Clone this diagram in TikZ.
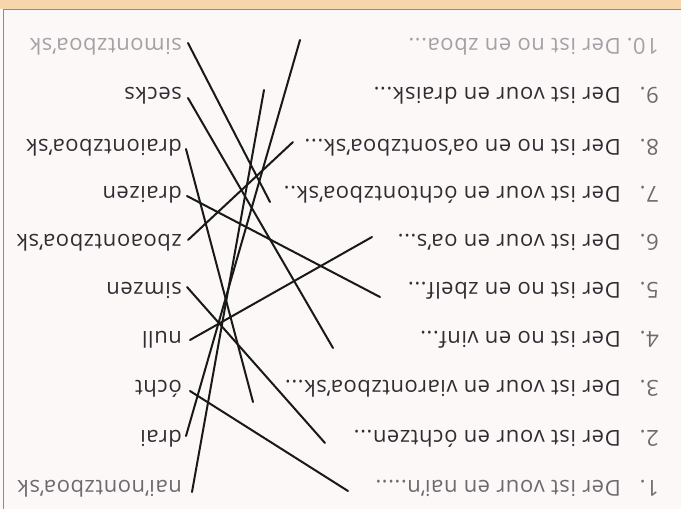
\documentclass[tikz,border=0pt]{standalone}
\usepackage{fontspec}
\setmainfont{Open Sans}[LetterSpace=2.5]
\usetikzlibrary{calc}
\definecolor{bg}{RGB}{252,248,248}
\definecolor{band}{RGB}{248,214,172}
\definecolor{framec}{RGB}{140,140,140}
\definecolor{txt}{RGB}{50,44,50}
\definecolor{txtmid}{RGB}{110,105,110}
\definecolor{txtlight}{RGB}{165,160,165}
\begin{document}
\begin{tikzpicture}[x=1pt,y=-1pt,
  lbl/.style={rotate=180, anchor=west, inner sep=0pt, text height=15pt, text depth=4pt,
    font=\fontsize{22}{26}\selectfont, text=txt},
  num/.style={lbl, text=txtmid},
  con/.style={line width=2pt, draw=black!90, line cap=round}]
\useasboundingbox (0,0) rectangle (681,509);
\fill[bg] (0,0) rectangle (681,509);
\fill[band] (0,0) rectangle (681,9);
\draw[framec, line width=1pt] (3,509) -- (3,9.5) -- (681,9.5);

% numbers
\node[num] (n1) at (659,486) {1.};
\node[num] (n2) at (659,436) {2.};
\node[num] (n3) at (659,386) {3.};
\node[num] (n4) at (659,337) {4.};
\node[num] (n5) at (659,288) {5.};
\node[num] (n6) at (659,240) {6.};
\node[num] (n7) at (659,192) {7.};
\node[num] (n8) at (659,145) {8.};
\node[num] (n9) at (659,93) {9.};
\node[num, text=txtlight] (n10) at (659,44) {10.};

% questions
\node[lbl, text=txtmid] (q1) at (621,486) {Der ist vour en nai’n.....};
\node[lbl] (q2) at (621,436) {Der ist vour en óchtzen...};
\node[lbl] (q3) at (621,386) {Der ist vour en viarontzboa’sk...};
\node[lbl] (q4) at (621,337) {Der ist no en vinf...};
\node[lbl] (q5) at (621,288) {Der ist no en zbelf...};
\node[lbl] (q6) at (621,240) {Der ist vour en oa’s...};
\node[lbl] (q7) at (621,192) {Der ist vour en óchtontzboa’sk..};
\node[lbl] (q8) at (621,145) {Der ist no en oa’sontzboa’sk...};
\node[lbl] (q9) at (621,93) {Der ist vour en draisk...};
\node[lbl, text=txtlight] (q10) at (621,44) {Der ist no en zboa...};

% answers
\node[lbl, text=txtmid] (a1) at (182,486) {nai’nontzboa’sk};
\node[lbl] (a2) at (182,436) {drai};
\node[lbl] (a3) at (182,386) {ócht};
\node[lbl] (a4) at (182,337) {null};
\node[lbl] (a5) at (182,288) {simzen};
\node[lbl] (a6) at (182,240) {zboaontzboa’sk};
\node[lbl] (a7) at (182,192) {draizen};
\node[lbl] (a8) at (182,145) {draiontzboa’sk};
\node[lbl] (a9) at (182,93) {secks};
\node[lbl, text=txtlight] (a10) at (182,44) {simontzboa’sk};

% free ends near the questions
\coordinate (e1) at (348,491);
\coordinate (e2) at (325,443);
\coordinate (e3) at (253,402);
\coordinate (e4) at (333,348);
\coordinate (e5) at (380,297);
\coordinate (e6) at (372,237);
\coordinate (e7) at (270,202);
\coordinate (e8) at (293,142);
\coordinate (e9) at (264,90);
\coordinate (e10) at (300,40);

% connectors
\draw[con] ($(a10.west)+(6,-1)$) -- (e7);
\draw[con] ($(a9.west)+(6,5)$) -- (e4);
\draw[con] ($(a8.west)+(4,4)$) -- (e3);
\draw[con] ($(a7.west)+(5,4)$) -- (e5);
\draw[con] ($(a6.west)+(6,0)$) -- (e8);
\draw[con] ($(a5.west)+(5,-1)$) -- (e2);
\draw[con] ($(a4.west)+(8,3)$) -- (e6);
\draw[con] ($(a3.west)+(8,5)$) -- (e1);
\draw[con] ($(a2.west)+(4,0)$) -- (e10);
\draw[con] ($(a1.west)+(10,6)$) -- (e9);
\end{tikzpicture}
\end{document}
